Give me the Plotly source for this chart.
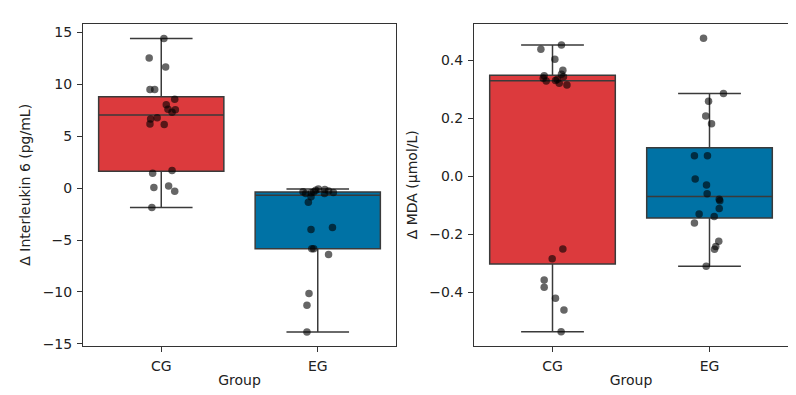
import numpy as np
import plotly.graph_objects as go

groups = ["CG", "EG"]

il6_cg = [14.43, 12.56, 11.68, 9.52, 9.52, 8.57, 8.04, 7.62, 7.56, 7.31,
          6.67, 6.80, 6.20, 6.14, 1.70, 1.45, 0.06, 0.21, -0.29, -1.87]
il6_cg_jit = [0.017, -0.077, 0.028, -0.072, -0.042, 0.086, 0.032, 0.043, 0.090, 0.069,
              -0.068, -0.026, -0.072, 0.019, 0.069, -0.055, -0.047, 0.047, 0.086, -0.060]
il6_eg = [-0.08, -0.12, -0.19, -0.26, -0.35, -0.37, -0.41, -0.45, -0.51, -0.51,
          -0.83, -1.36, -3.99, -3.80, -5.83, -5.83, -6.40, -10.14, -11.28, -13.87]
il6_eg_jit = [0.004, 0.045, -0.013, 0.069, -0.094, -0.026, 0.100, -0.042, -0.077, 0.043,
              -0.043, -0.060, -0.043, 0.094, -0.038, -0.026, 0.069, -0.056, -0.069, -0.069]

mda_cg = [0.437, 0.452, 0.403, 0.365, 0.346, 0.351, 0.337, 0.328, 0.342, 0.329,
          0.320, 0.314, 0.333, -0.251, -0.285, -0.358, -0.383, -0.421, -0.462, -0.537]
mda_cg_jit = [-0.074, 0.057, 0.015, 0.066, -0.053, 0.057, -0.059, -0.040, 0.070, 0.019,
              0.043, 0.092, 0.030, 0.066, -0.002, -0.053, -0.053, 0.019, 0.073, 0.055]
mda_eg = [0.475, 0.285, 0.258, 0.207, 0.180, 0.070, 0.070, -0.010, -0.031, -0.061,
          -0.080, -0.085, -0.112, -0.131, -0.139, -0.162, -0.225, -0.243, -0.252, -0.311]
mda_eg_jit = [-0.038, 0.089, -0.006, -0.024, 0.013, -0.096, -0.013, -0.091, -0.019, -0.015,
              0.062, 0.066, 0.062, -0.066, 0.030, -0.096, 0.059, 0.040, 0.032, -0.021]

colors = ["#DC3A3D", "#0072A5"]
edge = "#3A3A3A"


def stats(v):
    a = np.asarray(v, dtype=float)
    q1, med, q3 = np.percentile(a, [25, 50, 75])
    iqr = q3 - q1
    lo = a[a >= q1 - 1.5 * iqr].min()
    hi = a[a <= q3 + 1.5 * iqr].max()
    return q1, med, q3, lo, hi


fig = go.Figure()

panels = [
    ("x", "y", [il6_cg, il6_eg], [il6_cg_jit, il6_eg_jit]),
    ("x2", "y2", [mda_cg, mda_eg], [mda_cg_jit, mda_eg_jit]),
]

for xa, ya, series, jits in panels:
    for i, vals in enumerate(series):
        q1, med, q3, lo, hi = stats(vals)
        fig.add_trace(go.Box(
            x=[i], q1=[q1], median=[med], q3=[q3], lowerfence=[lo], upperfence=[hi],
            width=0.8, whiskerwidth=0.5, fillcolor=colors[i],
            line=dict(color=edge, width=1.5), boxpoints=False,
            xaxis=xa, yaxis=ya, showlegend=False, hoverinfo="skip"))
    for i, (vals, jit) in enumerate(zip(series, jits)):
        fig.add_trace(go.Scatter(
            x=[i + j for j in jit], y=vals, mode="markers",
            marker=dict(color="rgba(0,0,0,0.6)", size=7.5, line=dict(width=0)),
            xaxis=xa, yaxis=ya, showlegend=False, hoverinfo="skip"))

tfont = dict(family="DejaVu Sans", size=14, color="#222222")
axcommon = dict(showline=True, mirror=True, linecolor="#333333", linewidth=1,
                ticks="outside", ticklen=5, tickcolor="#333333", showgrid=False,
                zeroline=False, ticklabelstandoff=2,
                tickfont=dict(family="DejaVu Sans", size=14, color="#222222"))

fig.update_layout(
    width=796, height=395, margin=dict(l=0, r=0, t=0, b=0),
    paper_bgcolor="white", plot_bgcolor="white", font=dict(family="DejaVu Sans", size=14),
    xaxis=dict(domain=[75 / 796, 388 / 796], range=[-0.5, 1.5], tickvals=[0, 1],
               ticktext=groups, title=dict(text="Group", standoff=2, font=tfont), **axcommon),
    yaxis=dict(domain=[52 / 395, 379 / 395], range=[-15.19, 15.85], dtick=5, tick0=0,
               title=dict(text="Δ Interleukin 6 (pg/mL)", standoff=8, font=tfont), **axcommon),
    xaxis2=dict(domain=[466 / 796, 780 / 796], range=[-0.5, 1.5], tickvals=[0, 1],
                ticktext=groups, anchor="y2", title=dict(text="Group", standoff=2, font=tfont), **axcommon),
    yaxis2=dict(domain=[52 / 395, 379 / 395], range=[-0.585, 0.525], dtick=0.2, tick0=0,
                tickformat=".1f", anchor="x2",
                title=dict(text="Δ MDA (µmol/L)", standoff=8, font=tfont), **axcommon),
)

fig.write_html("out.html")
